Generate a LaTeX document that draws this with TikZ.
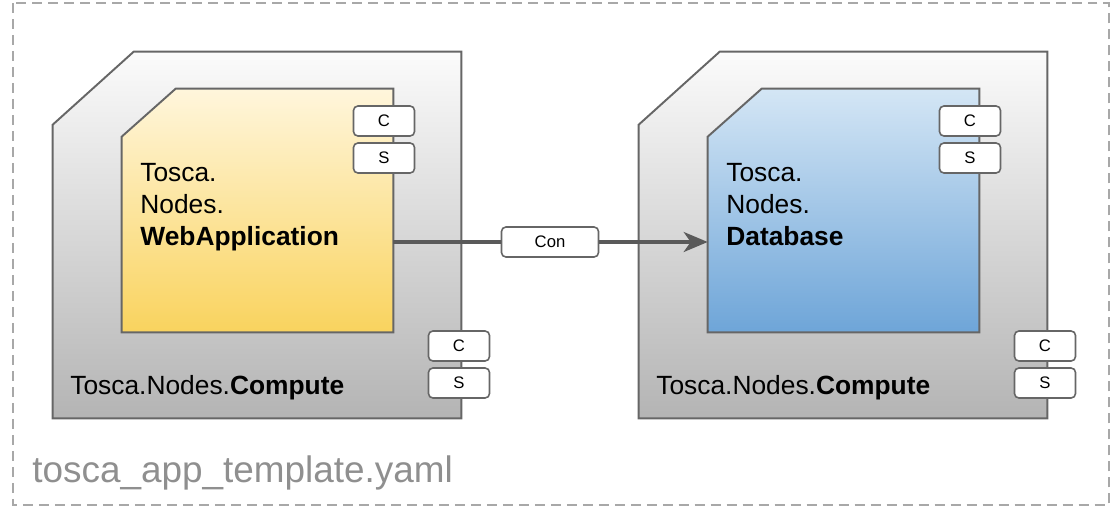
\documentclass[tikz,border=0pt]{standalone}
\usepackage{fontspec}
\setmainfont{Liberation Sans}
\usetikzlibrary{arrows.meta,positioning,calc}
\definecolor{trait}{HTML}{666666}
\definecolor{fleche}{HTML}{5A5A5A}
\definecolor{pointille}{HTML}{A8A8A8}
\definecolor{grisHaut}{HTML}{FBFBFB}
\definecolor{grisBas}{HTML}{B4B4B4}
\definecolor{jauneHaut}{HTML}{FFF6DC}
\definecolor{jauneBas}{HTML}{F9D35E}
\definecolor{bleuHaut}{HTML}{D4E6F5}
\definecolor{bleuBas}{HTML}{6EA5D8}

\begin{document}
\begin{tikzpicture}[x=0.02cm,y=-0.02cm,font=\fontsize{15}{18}\selectfont,
  cadre/.style={rectangle,inner sep=0pt,draw=none},
  hull/.style={draw=trait,line width=1.1pt,top color=grisHaut,bottom color=grisBas},
  web/.style={draw=trait,line width=1.1pt,top color=jauneHaut,bottom color=jauneBas},
  db/.style={draw=trait,line width=1.1pt,top color=bleuHaut,bottom color=bleuBas},
  pin/.style={rectangle,rounded corners=2.5pt,draw=trait,line width=0.9pt,fill=white,
              minimum width=1.22cm,minimum height=0.6cm,inner sep=0pt,
              font=\fontsize{9.5}{11}\selectfont},
  lbl/.style={anchor=base west,inner sep=0pt},
  lien/.style={fleche,line width=1.8pt}]
  \useasboundingbox (0,0) rectangle (1111,508);

  % Template
  \draw[pointille,line width=0.85pt,dash pattern=on 0.2cm off 0.12cm] (13,3) rectangle (1109,505);
  \node[lbl,text=pointille!85!black,font=\fontsize{21}{24}\selectfont] (fichier) at (32,482)
    {tosca\_app\_template.yaml};

  % Compute gauche
  \node[cadre,minimum width=8.16cm,minimum height=7.32cm] (hoteA) at (257,235) {};
  \draw[hull] (hoteA.south west) -- ($(hoteA.north west)+(0,73)$) -- ($(hoteA.north west)+(81,0)$)
    -- (hoteA.north east) -- (hoteA.south east) -- cycle;
  \node[cadre,minimum width=5.42cm,minimum height=4.86cm] (app) at (257.5,210.5) {};
  \draw[web] (app.south west) -- ($(app.north west)+(0,48)$) -- ($(app.north west)+(54,0)$)
    -- (app.north east) -- (app.south east) -- cycle;
  \node[lbl] (appL1) at (140,181) {Tosca.};
  \node[lbl] (appL2) at (140,213) {Nodes.};
  \node[lbl] (appL3) at (140,245) {\textbf{WebApplication}};
  \node[lbl] (hoteAL) at (70,394) {Tosca.Nodes.\textbf{Compute}};
  \node[pin] (appC) at (384,121) {C};
  \node[pin] (appS) at (384,158) {S};
  \node[pin] (hoteAC) at (459,346) {C};
  \node[pin] (hoteAS) at (459,383) {S};

  % Compute droite
  \node[cadre,minimum width=8.16cm,minimum height=7.32cm] (hoteB) at (843,235) {};
  \draw[hull] (hoteB.south west) -- ($(hoteB.north west)+(0,73)$) -- ($(hoteB.north west)+(81,0)$)
    -- (hoteB.north east) -- (hoteB.south east) -- cycle;
  \node[cadre,minimum width=5.42cm,minimum height=4.86cm] (base) at (843.5,210.5) {};
  \draw[db] (base.south west) -- ($(base.north west)+(0,48)$) -- ($(base.north west)+(54,0)$)
    -- (base.north east) -- (base.south east) -- cycle;
  \node[lbl] (baseL1) at (726,181) {Tosca.};
  \node[lbl] (baseL2) at (726,213) {Nodes.};
  \node[lbl] (baseL3) at (726,245) {\textbf{Database}};
  \node[lbl] (hoteBL) at (656,394) {Tosca.Nodes.\textbf{Compute}};
  \node[pin] (baseC) at (970,121) {C};
  \node[pin] (baseS) at (970,158) {S};
  \node[pin] (hoteBC) at (1045,346) {C};
  \node[pin] (hoteBS) at (1045,383) {S};

  % Connexion
  \node[pin,minimum width=1.94cm] (con) at (550,242) {Con};
  \draw[lien] (app.east |- con) -- (con);
  \draw[lien,-{Stealth[length=0.48cm,width=0.4cm,inset=0.14cm]}] (con) -- (base.west |- con);
\end{tikzpicture}
\end{document}
